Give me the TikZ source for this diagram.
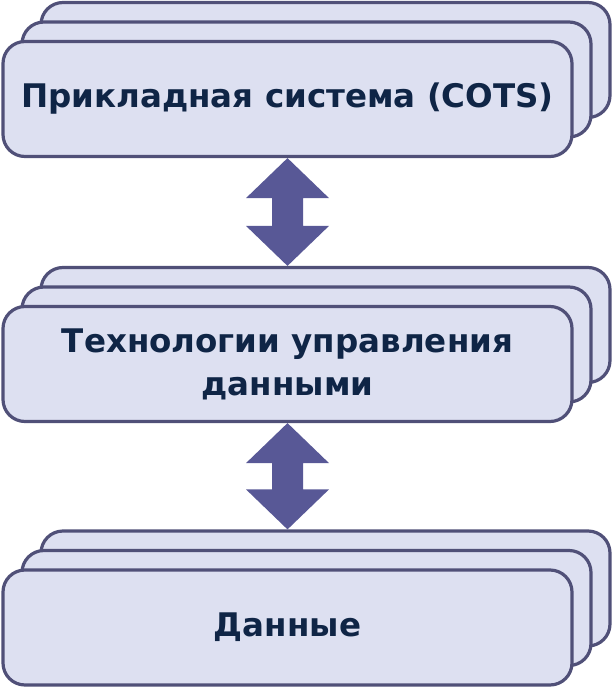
\documentclass[tikz,border=0pt]{standalone}
\usepackage{fontspec}
\setmainfont{DejaVu Sans}
\usetikzlibrary{calc}
\definecolor{boxfill}{HTML}{DDE0F1}
\definecolor{boxline}{HTML}{505078}
\definecolor{arrowfill}{HTML}{585896}
\definecolor{txt}{HTML}{0F2546}
\tikzset{
  layerbox/.style={draw=boxline, fill=boxfill, line width=3.2pt, rounded corners=22pt,
    minimum width=569pt, minimum height=115pt, inner sep=0pt},
  label text/.style={text=txt, font=\fontsize{32.5}{43}\selectfont\bfseries, align=center},
  blockarrow/.style={fill=arrowfill, draw=none}
}
\newcommand{\stackbox}[3]{%
  \node[layerbox] (#1c) at ($(#2)+(38,-39)$) {};
  \node[layerbox] (#1b) at ($(#2)+(19,-19.5)$) {};
  \node[layerbox, label text] (#1) at (#2) {#3};
}
\newcommand{\dblarrow}[2]{%
  \fill[blockarrow] (#1)
    -- ($(#1)+(-41.5,40)$) -- ($(#1)+(-15.5,40)$)
    -- ($(#2)+(-15.5,-40)$) -- ($(#2)+(-41.5,-40)$)
    -- (#2)
    -- ($(#2)+(41.5,-40)$) -- ($(#2)+(15.5,-40)$)
    -- ($(#1)+(15.5,40)$) -- ($(#1)+(41.5,40)$) -- cycle;
}
\begin{document}
\begin{tikzpicture}[x=1pt, y=-1pt]
\useasboundingbox (0,0) rectangle (612,688);
\coordinate (p1) at (287.5,99);
\coordinate (p2) at (287.5,364);
\coordinate (p3) at (287.5,627.5);
\stackbox{app}{p1}{Прикладная система (COTS)}
\stackbox{tech}{p2}{Технологии управления\\данными}
\stackbox{data}{p3}{Данные}
\coordinate (a1) at (app.south);
\coordinate (a2) at (app.south |- techc.north);
\coordinate (b1) at (tech.south);
\coordinate (b2) at (tech.south |- datac.north);
\dblarrow{a1}{a2}
\dblarrow{b1}{b2}
\end{tikzpicture}
\end{document}
